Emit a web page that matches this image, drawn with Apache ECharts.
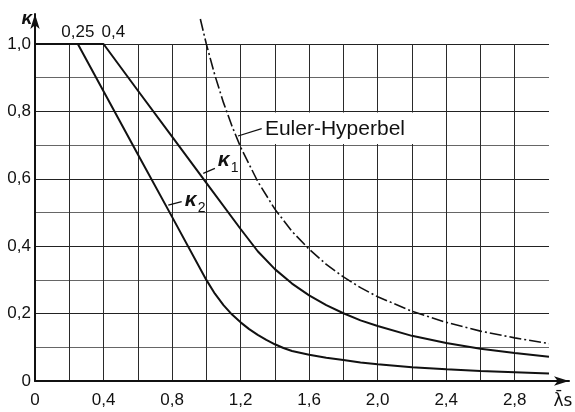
<!DOCTYPE html>
<html>
<head>
<meta charset="utf-8">
<script src="https://cdn.jsdelivr.net/npm/echarts@6/dist/echarts.min.js"></script>
<style>
  html, body { margin: 0; padding: 0; background: #fff; }
  #chart { width: 575px; height: 412px; }
</style>
</head>
<body>
<div id="chart"></div>
<script>
const FONT = "'Liberation Sans', Arial, sans-serif";

// Reduced slenderness λ̄s and reduction factors κ
const lambdaK1 = [0, 0.4, 0.6, 0.8, 1.0, 1.2, 1.3, 1.4, 1.5, 1.6, 1.7, 1.8, 1.9, 2.0, 2.2, 2.4, 2.6, 2.8, 3.0];
const kappa1   = [1.0, 1.0, 0.862, 0.725, 0.588, 0.451, 0.385, 0.332, 0.289, 0.254, 0.225, 0.201, 0.180, 0.163, 0.134, 0.113, 0.096, 0.083, 0.072];

const lambdaK2 = [0, 0.25, 0.4, 0.6, 0.8, 1.0, 1.05, 1.1, 1.15, 1.2, 1.25, 1.3, 1.35, 1.4, 1.45, 1.5, 1.6, 1.7, 1.8, 1.9, 2.0, 2.2, 2.4, 2.6, 2.8, 3.0];
const kappa2   = [1.0, 1.0, 0.860, 0.673, 0.487, 0.300, 0.259, 0.225, 0.197, 0.174, 0.154, 0.137, 0.122, 0.109, 0.098, 0.089, 0.078, 0.069, 0.062, 0.055, 0.050, 0.041, 0.035, 0.030, 0.026, 0.022];

const lambdaEuler = [0.965, 1.0, 1.05, 1.1, 1.15, 1.2, 1.3, 1.4, 1.5, 1.6, 1.7, 1.8, 1.9, 2.0, 2.2, 2.4, 2.6, 2.8, 3.0];
const kappaEuler  = [1.074, 1.0, 0.907, 0.826, 0.756, 0.694, 0.592, 0.510, 0.444, 0.391, 0.346, 0.309, 0.277, 0.250, 0.207, 0.174, 0.148, 0.128, 0.111];

// Tick labels (German decimal comma)
const xTickLabels = ['0', '0,4', '0,8', '1,2', '1,6', '2,0', '2,4', '2,8'];
const yTickLabels = ['0', '0,2', '0,4', '0,6', '0,8', '1,0'];

// Limits marked above the plateau κ = 1
const kneeValues = [0.25, 0.4];
const kneeLabels = ['0,25', '0,4'];

const zip = (xs, ys) => xs.map((x, i) => [x, ys[i]]);

function labelAt(step, labels) {
  return function (v) {
    const k = v / step;
    const r = Math.round(k);
    if (Math.abs(k - r) < 1e-6 && r < labels.length) return labels[r];
    return '';
  };
}

const chart = echarts.init(document.getElementById('chart'), null, { renderer: 'canvas' });

const INK = '#111';

chart.setOption({
  animation: false,
  backgroundColor: '#fff',
  grid: [
    { left: 35, right: 26, top: 44, bottom: 31 },
    { left: 35, right: 6, top: 14, bottom: 31 }
  ],
  xAxis: [
    {
      gridIndex: 0, type: 'value', min: 0, max: 3, interval: 0.2,
      axisLine: { show: false }, axisTick: { show: false },
      axisLabel: { formatter: labelAt(0.4, xTickLabels), margin: 11, color: INK, fontSize: 17, fontFamily: FONT },
      splitLine: { show: true, showMaxLine: false, lineStyle: { color: '#2a2a2a', width: 1 } }
    },
    {
      gridIndex: 1, type: 'value', min: 0, max: 3.117,
      axisLine: { show: true, symbol: ['none', 'arrow'], symbolSize: [7, 15], lineStyle: { color: INK, width: 2 } },
      axisTick: { show: false }, axisLabel: { show: false }, splitLine: { show: false }
    }
  ],
  yAxis: [
    {
      gridIndex: 0, type: 'value', min: 0, max: 1, interval: 0.1,
      axisLine: { show: false }, axisTick: { show: false },
      axisLabel: { formatter: labelAt(0.2, yTickLabels), margin: 4, color: INK, fontSize: 17, fontFamily: FONT },
      splitLine: { show: true, lineStyle: { color: ['#222', '#666'], width: 1 } }
    },
    {
      gridIndex: 1, type: 'value', min: 0, max: 1.089,
      axisLine: { show: true, symbol: ['none', 'arrow'], symbolSize: [7, 15], lineStyle: { color: INK, width: 2 } },
      axisTick: { show: false }, axisLabel: { show: false }, splitLine: { show: false }
    }
  ],
  series: [
    {
      name: 'κ1', type: 'line', xAxisIndex: 0, yAxisIndex: 0,
      data: zip(lambdaK1, kappa1), showSymbol: false, z: 3,
      lineStyle: { color: INK, width: 2 }
    },
    {
      name: 'κ2', type: 'line', xAxisIndex: 0, yAxisIndex: 0,
      data: zip(lambdaK2, kappa2), showSymbol: false, z: 3,
      lineStyle: { color: INK, width: 2 }
    },
    {
      name: 'Euler-Hyperbel', type: 'line', xAxisIndex: 0, yAxisIndex: 0,
      data: zip(lambdaEuler, kappaEuler), showSymbol: false, clip: false, z: 3,
      lineStyle: { color: INK, width: 1.6, type: [12, 3, 2, 3] }
    }
  ]
});

// Annotations placed in data coordinates
const px = (x, y) => chart.convertToPixel({ gridIndex: 0 }, [x, y]);

function leader(a, b) {
  const p = px(a[0], a[1]), q = px(b[0], b[1]);
  return { type: 'line', z: 5, shape: { x1: p[0], y1: p[1], x2: q[0], y2: q[1] }, style: { stroke: INK, lineWidth: 1.3 } };
}
function text(str, p, opts) {
  return { type: 'text', z: 6, x: p[0], y: p[1],
    style: Object.assign({ text: str, fill: INK, font: '17px ' + FONT, align: 'center', verticalAlign: 'middle' }, opts || {}) };
}
function kappaLabel(sub, at) {
  const p = px(at[0], at[1]);
  return [
    text('κ', p, { font: 'italic bold 21px ' + FONT, align: 'left' }),
    text(sub, [p[0] + 13, p[1] + 8], { font: '14px ' + FONT, align: 'left' })
  ];
}

const graphics = [];

// white band behind the Euler label
const b0 = px(1.23, 0.797), b1 = px(2.36, 0.703);
graphics.push({ type: 'rect', z: 1, shape: { x: b0[0], y: b0[1], width: b1[0] - b0[0], height: b1[1] - b0[1] }, style: { fill: '#fff' } });

graphics.push(leader([1.185, 0.727], [1.323, 0.749]));
graphics.push(text('Euler-Hyperbel', px(1.342, 0.746), { font: '21px ' + FONT, align: 'left' }));

graphics.push(leader([0.982, 0.616], [1.05, 0.631]));
graphics.push(...kappaLabel('1', [1.066, 0.655]));

graphics.push(leader([0.778, 0.522], [0.856, 0.532]));
graphics.push(...kappaLabel('2', [0.874, 0.537]));

// plateau limits above the top edge: first centred, second starting at its value
kneeValues.forEach((v, i) => {
  const p = px(v, 1.0);
  if (i === 0) graphics.push(text(kneeLabels[i], [p[0], p[1] - 12]));
  else graphics.push(text(kneeLabels[i], [p[0] - 2, p[1] - 12], { align: 'left' }));
});

// axis titles
const o = px(0, 0);
const yTop = chart.convertToPixel({ gridIndex: 1 }, [0, 1.089]);
graphics.push(text('κ', [o[0] - 8, yTop[1] + 5], { font: 'italic bold 19px ' + FONT }));
const xEnd = chart.convertToPixel({ gridIndex: 1 }, [3.117, 0]);
graphics.push(text('λ\u0304s', [xEnd[0] - 6, xEnd[1] + 21], { font: '17px "DejaVu Sans", ' + FONT }));

chart.setOption({ graphic: graphics });
</script>
</body>
</html>
